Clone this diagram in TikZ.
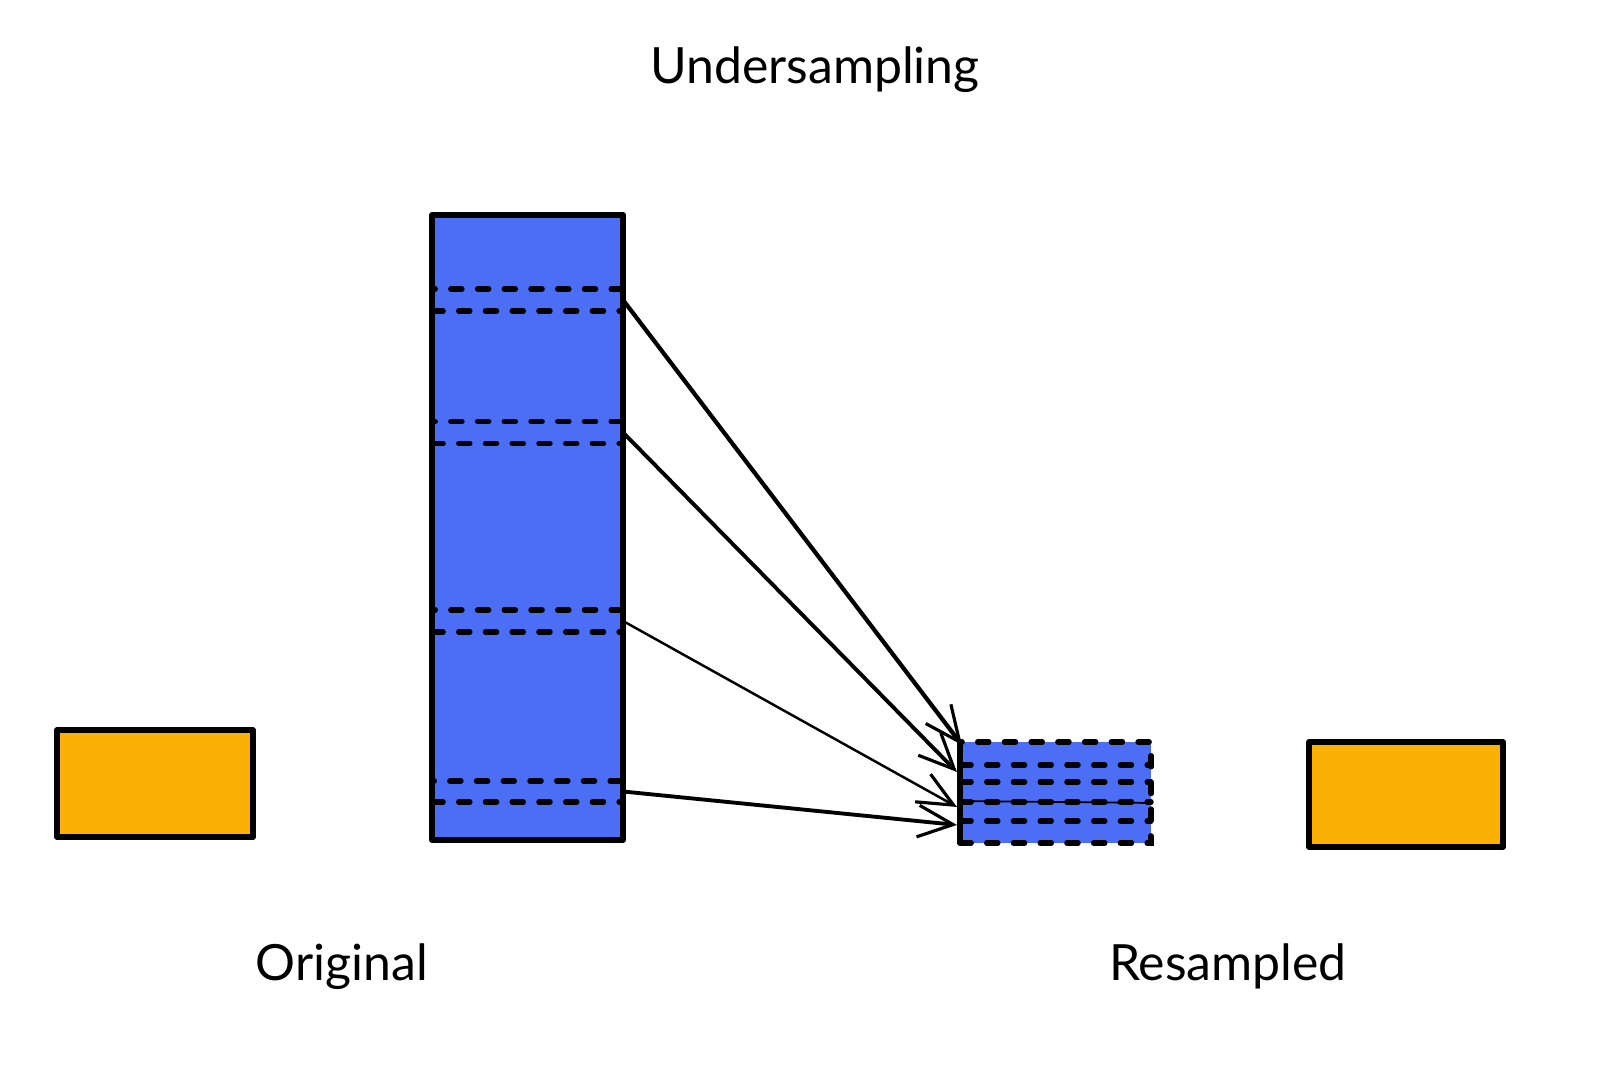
\documentclass[tikz,border=0pt]{standalone}
\usepackage{fontspec}
\setmainfont{Lato}
\usetikzlibrary{arrows.meta,calc}
\definecolor{exblue}{RGB}{76,110,245}
\definecolor{exorange}{RGB}{250,176,5}
\begin{document}
\begin{tikzpicture}[x=0.01cm,y=-0.01cm,
  boxstyle/.style={draw=black, line width=1.6pt, line join=round, inner sep=0pt, outer sep=0pt},
  dashline/.style={draw=black, line width=1.5pt, dash pattern=on 3.2pt off 4.4pt, line cap=round},
  bandstyle/.style={dashline, inner sep=0pt, outer sep=0pt, minimum width=1.91cm},
  arr/.style={-{Straight Barb[length=10pt,width=9pt,line width=0.9pt]}, line width=0.9pt},
  lbl/.style={font=\fontsize{14.2}{17}\selectfont, anchor=base}
]
\fill[white] (0,0) rectangle (1600,1073);
\useasboundingbox (0,0) rectangle (1600,1073);

% title and labels
\node[lbl] (title) at (815,84) {Undersampling};
\node[lbl] (orig) at (342,980) {Original};
\node[lbl] (res) at (1228,980) {Resampled};

% orange boxes
\node[boxstyle, fill=exorange, minimum width=1.96cm, minimum height=1.07cm] (oleft) at (155,783.5) {};
\node[boxstyle, fill=exorange, minimum width=1.94cm, minimum height=1.05cm] (oright) at (1406,794.5) {};

% tall blue box
\node[boxstyle, fill=exblue, minimum width=1.91cm, minimum height=6.25cm] (tall) at (527.5,527.5) {};
\node[bandstyle, minimum height=0.22cm] (b1) at (527.5,300) {};
\node[bandstyle, minimum height=0.22cm] (b2) at (527.5,432.5) {};
\node[bandstyle, minimum height=0.22cm] (b3) at (527.5,621) {};
\node[bandstyle, minimum height=0.21cm] (b4) at (527.5,791.5) {};

% small resampled box
\node[dashline, fill=exblue, inner sep=0pt, outer sep=0pt, minimum width=1.91cm, minimum height=1.01cm] (small) at (1055.5,792.5) {};
\draw[dashline] ($(small.north west)+(0,23)$) -- ($(small.north east)+(0,23)$);
\draw[dashline] ($(small.north west)+(0,40)$) -- ($(small.north east)+(0,40)$);
\draw[black, line width=0.5pt] ($(small.north west)+(0,59)$) -- ($(small.north east)+(0,61)$);
\draw[dashline] ($(small.north west)+(0,60)$) -- ($(small.north east)+(0,60)$);
\draw[dashline] ($(small.north west)+(0,79)$) -- ($(small.north east)+(0,79)$);
\draw[black, line width=1.5pt, line cap=round] (small.north west) -- (small.south west);

% arrow targets
\coordinate (t1) at ($(small.north west)+(2,3)$);
\coordinate (t2) at ($(small.north west)+(-3,30)$);
\coordinate (t3) at ($(small.north west)+(-3,65)$);
\coordinate (t4) at ($(small.north west)+(-3,83)$);

% arrows
\draw[arr, line width=1.2pt] (b1.east) -- (t1);
\draw[arr, line width=1.1pt] (b2.east) -- (t2);
\draw[arr, line width=0.7pt] (b3.east) -- (t3);
\draw[arr, line width=1.1pt] (b4.east) -- (t4);
\end{tikzpicture}
\end{document}
